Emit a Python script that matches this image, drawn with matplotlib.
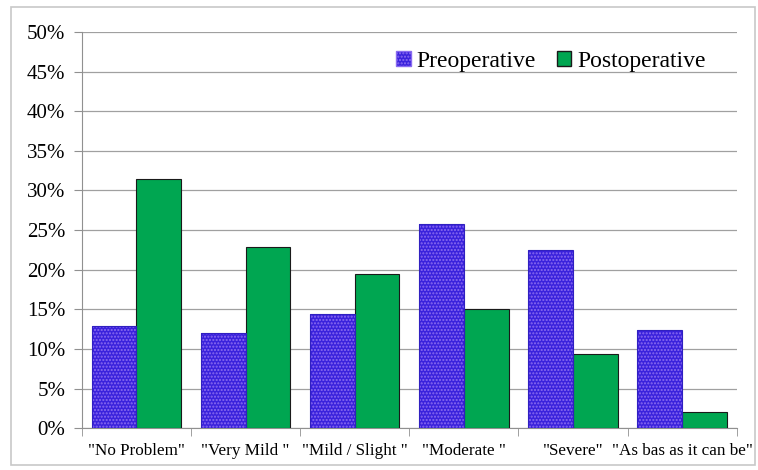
import numpy as np
import matplotlib.pyplot as plt
from matplotlib.patches import Rectangle
from matplotlib.ticker import FuncFormatter, MultipleLocator

categories = ['"No Problem"', '"Very Mild "', '"Mild / Slight "', '"Moderate "', '"Severe"', '"As bas as it can be"']
preoperative = [12.9, 12.0, 14.4, 25.8, 22.5, 12.4]
postoperative = [31.4, 22.9, 19.4, 15.0, 9.3, 2.1]

plt.rcParams['font.family'] = ['Liberation Serif', 'DejaVu Serif']

fig = plt.figure(figsize=(7.58, 4.70), dpi=100)
ax = fig.add_axes([0.108, 0.089, 0.864, 0.843])

x = np.arange(len(categories))
w = 0.41

# preoperative: blue with a fine dotted pattern, drawn in two passes
ax.bar(x - w / 2, preoperative, w, color='#3a22dc', edgecolor='#8a6cf0',
       hatch='.....', linewidth=0, zorder=3)
ax.bar(x - w / 2, preoperative, w, fill=False, edgecolor='#3020c0',
       linewidth=0.8, zorder=4)
ax.bar(x + w / 2, postoperative, w, color='#00a651', edgecolor='#1a1a1a',
       linewidth=0.8, zorder=3)

# legend proxies
ax.bar([0], [0], 0, color='#3a22dc', edgecolor='#8a6cf0', hatch='.....', label='Preoperative')
ax.bar([0], [0], 0, color='#00a651', edgecolor='#1a1a1a', label='Postoperative')

ax.set_xlim(-0.5, len(categories) - 0.5)
ax.set_ylim(0, 50)
ax.yaxis.set_major_locator(MultipleLocator(5))
ax.yaxis.set_major_formatter(FuncFormatter(lambda v, p: '%d%%' % v))
ax.yaxis.grid(True, color='#a0a0a0', linewidth=0.9, zorder=0)

ax.set_xticks(x)
ax.set_xticklabels(categories)
ax.set_xticks(np.arange(len(categories) + 1) - 0.5, minor=True)
ax.tick_params(axis='x', which='major', length=0, pad=11, labelsize=12.3)
ax.tick_params(axis='x', which='minor', length=6, color='#909090')
ax.tick_params(axis='y', length=6, color='#909090', labelsize=15, pad=6)

for s in ['top', 'right']:
    ax.spines[s].set_visible(False)
for s in ['left', 'bottom']:
    ax.spines[s].set_color('#909090')

ax.legend(loc='upper right', ncol=2, frameon=False, fontsize=17,
          handlelength=0.6, handleheight=0.6, handletextpad=0.25,
          columnspacing=0.9, bbox_to_anchor=(0.985, 1.005))

fig.patches.append(Rectangle((0.014, 0.01), 0.982, 0.975, transform=fig.transFigure,
                             fill=False, edgecolor='#c8c8c8', linewidth=1.2))

fig.savefig('out.png', dpi=100)
